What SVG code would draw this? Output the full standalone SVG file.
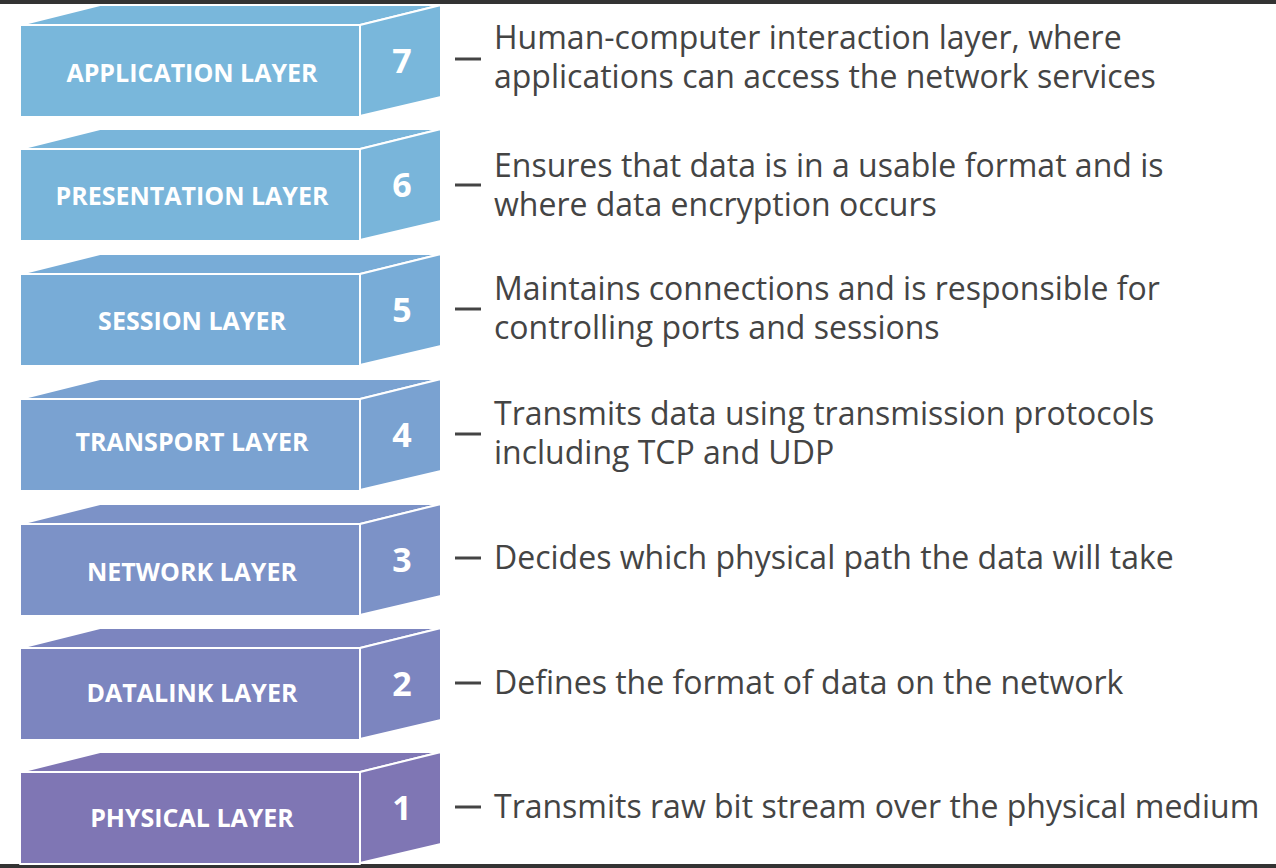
<svg xmlns="http://www.w3.org/2000/svg" width="1276" height="868" viewBox="0 0 1276 868">
<style>
.f{stroke:#fff;stroke-width:2;stroke-linejoin:round}
.lb{font-family:"Open Sans",sans-serif;font-weight:bold;font-size:25px;fill:#fff;text-anchor:middle}
.nm{font-family:"Open Sans",sans-serif;font-weight:bold;font-size:34px;fill:#fff;text-anchor:middle}
.ds{font-family:"Open Sans",sans-serif;font-size:32px;fill:#444}
.dash{stroke:#444;stroke-width:3}
</style>
<rect width="1276" height="868" fill="#fff"/>
<rect width="1276" height="4" fill="#333"/>
<rect y="864" width="1276" height="4" fill="#333"/>
<defs>
<g id="blk">
<polygon class="f" points="20,25 100,5 441,5 360,25"/>
<polygon class="f" points="360,25 441,5 441,97 360,116"/>
<rect class="f" x="20" y="25" width="340" height="92"/>
</g>
</defs>
<g id="l7" fill="#79b7db"><use href="#blk"/><text class="lb" x="192" y="82">APPLICATION LAYER</text><text class="nm" x="402" y="73">7</text></g>
<g id="l6" fill="#79b5da" transform="translate(0,124)"><use href="#blk"/><text class="lb" x="192" y="81">PRESENTATION LAYER</text><text class="nm" x="402" y="73">6</text></g>
<g id="l5" fill="#78acd7" transform="translate(0,249)"><use href="#blk"/><text class="lb" x="192" y="81">SESSION LAYER</text><text class="nm" x="402" y="73">5</text></g>
<g id="l4" fill="#7aa2d1" transform="translate(0,374)"><use href="#blk"/><text class="lb" x="192" y="77">TRANSPORT LAYER</text><text class="nm" x="402" y="73">4</text></g>
<g id="l3" fill="#7c92c7" transform="translate(0,499)"><use href="#blk"/><text class="lb" x="192" y="82">NETWORK LAYER</text><text class="nm" x="402" y="73">3</text></g>
<g id="l2" fill="#7c85bf" transform="translate(0,623)"><use href="#blk"/><text class="lb" x="192" y="79">DATALINK LAYER</text><text class="nm" x="402" y="73">2</text></g>
<g id="l1" fill="#7f76b4" transform="translate(0,747)"><use href="#blk"/><text class="lb" x="192" y="80">PHYSICAL LAYER</text><text class="nm" x="402" y="73">1</text></g>
<g id="connectors">
<line class="dash" x1="455" y1="59" x2="481" y2="59"/>
<line class="dash" x1="455" y1="185" x2="481" y2="185"/>
<line class="dash" x1="455" y1="309" x2="481" y2="309"/>
<line class="dash" x1="455" y1="434" x2="481" y2="434"/>
<line class="dash" x1="455" y1="558" x2="481" y2="558"/>
<line class="dash" x1="455" y1="683" x2="481" y2="683"/>
<line class="dash" x1="455" y1="807" x2="481" y2="807"/>
</g>
<g id="texts">
<text class="ds" x="494" y="49">Human-computer interaction layer, where</text>
<text class="ds" x="494" y="88">applications can access the network services</text>
<text class="ds" x="494" y="177">Ensures that data is in a usable format and is</text>
<text class="ds" x="494" y="216">where data encryption occurs</text>
<text class="ds" x="494" y="300">Maintains connections and is responsible for</text>
<text class="ds" x="494" y="339">controlling ports and sessions</text>
<text class="ds" x="494" y="425">Transmits data using transmission protocols</text>
<text class="ds" x="494" y="464">including TCP and UDP</text>
<text class="ds" x="494" y="569">Decides which physical path the data will take</text>
<text class="ds" x="494" y="694">Defines the format of data on the network</text>
<text class="ds" x="494" y="818">Transmits raw bit stream over the physical medium</text>
</g>
</svg>
